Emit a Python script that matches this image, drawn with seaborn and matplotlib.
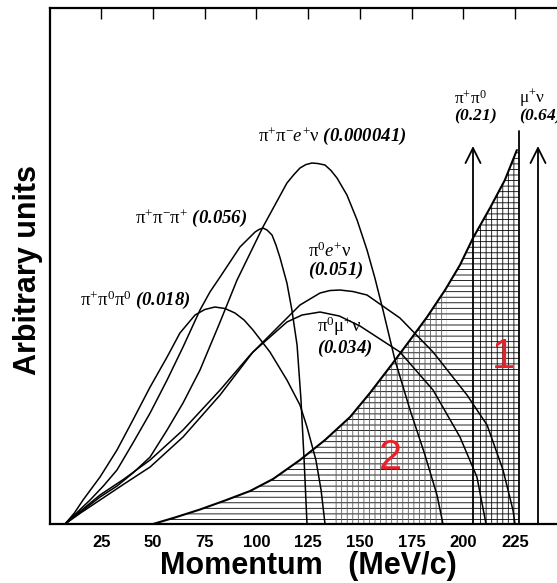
import numpy as np
import pandas as pd
import matplotlib
matplotlib.use("Agg")
import matplotlib.pyplot as plt
import seaborn as sns

# ---------------- data (momentum in MeV/c, arbitrary units) ----------------
p_3pi00 = [7.5, 12.0, 16.2, 24.4, 32.6, 40.3, 48.6, 56.8, 63.0, 70.3, 75.0, 79.9, 84.8, 89.6, 94.0, 98.3, 106.5, 114.7, 121.0, 124.4, 128.7, 131.2, 133.1]
h_3pi00 = [0, 2.2, 4.8, 9.4, 14.8, 20.8, 27.4, 33.4, 38.2, 41.8, 42.9, 43.4, 43.1, 42.2, 40.8, 38.8, 34.4, 28.8, 23.8, 19.4, 12.8, 6.8, 0]

p_3pi = [7.5, 13.0, 19.6, 26.0, 32.6, 40.3, 48.6, 56.8, 64.5, 72.7, 77.5, 82.4, 92.0, 99.3, 101.2, 103.1, 105.1, 107.5, 109.4, 111.4, 114.7, 117.1, 119.6, 121.5, 123.0, 124.4]
h_3pi = [0, 2.2, 4.8, 7.6, 10.8, 16.2, 22.2, 28.8, 35.4, 42.8, 46.4, 49.4, 55.4, 58.4, 58.9, 59.2, 58.8, 57.8, 55.8, 53.2, 48.2, 42.8, 35.8, 24.8, 12.8, 0]

p_ke4 = [7.5, 15.0, 24.4, 32.6, 40.3, 48.6, 56.8, 64.5, 72.7, 82.4, 90.6, 103.1, 114.7, 118.1, 121.0, 123.9, 126.8, 129.7, 133.1, 136.0, 138.9, 143.7, 148.6, 153.4, 157.2, 161.1, 166.9, 174.2, 181.4, 187.2, 190.1]
h_ke4 = [0, 2.4, 5.4, 7.6, 10.2, 13.4, 18.8, 24.2, 30.8, 40.4, 48.8, 59.4, 68.2, 69.9, 71.2, 71.9, 72.2, 72.1, 71.8, 70.7, 69.2, 65.8, 60.8, 54.8, 49.2, 42.8, 32.8, 22.8, 13.8, 5.8, 0]

p_ke3 = [7.5, 15.0, 24.4, 36.0, 48.6, 64.5, 82.4, 96.9, 109.9, 121.0, 130.7, 135.5, 140.3, 146.6, 153.4, 169.3, 185.3, 201.7, 211.4, 219.1, 223.9, 224.9]
h_ke3 = [0, 2.6, 5.8, 9.0, 12.8, 18.8, 26.8, 33.8, 39.2, 43.8, 46.2, 46.7, 46.8, 46.5, 45.8, 41.2, 34.4, 25.8, 19.8, 10.8, 2.8, 0]

p_km3 = [7.5, 15.0, 24.4, 36.0, 48.6, 64.5, 82.4, 98.3, 114.7, 122.0, 130.7, 140.0, 150.0, 169.3, 185.3, 198.3, 206.5, 210.9]
h_km3 = [0, 2.2, 4.8, 8.0, 11.4, 17.4, 25.8, 34.4, 40.4, 41.8, 42.4, 41.6, 39.6, 34.4, 26.8, 17.4, 9.4, 0]

p_bound = [50.0, 60.6, 72.7, 84.8, 96.9, 108.0, 121.0, 133.1, 145.2, 154.8, 165.9, 174.2, 182.4, 191.1, 198.3, 204.6, 212.8, 220.0, 225.8, 226.8, 226.8]
h_bound = [0, 1.3, 2.9, 4.7, 6.6, 9.0, 12.8, 16.8, 21.4, 26.2, 32.2, 36.8, 41.4, 46.8, 51.8, 57.2, 63.2, 68.8, 74.8, 74.8, 0]

edge_p = 226.8
edge_top = 78.6
region2 = (138, 192)
region1 = (207, 226.8)

two_body_p = [204.6, 236.0]
two_body_tip = 75.6
two_body_names = [r"$\mathrm{\pi^{+}\pi^{0}}$", r"$\mathrm{\mu^{+}\nu}$"]
two_body_br = [r"$\mathbfit{(0.21)}$", r"$\mathbfit{(0.64)}$"]

xticks = [25, 50, 75, 100, 125, 150, 175, 200, 225]

# ---------------- style ----------------
sns.set_theme(style="white")
plt.rcParams["font.family"] = ["Liberation Sans", "DejaVu Sans"]
plt.rcParams["mathtext.fontset"] = "custom"
plt.rcParams["mathtext.rm"] = "Liberation Serif"
plt.rcParams["mathtext.it"] = "Liberation Serif:italic"
plt.rcParams["mathtext.bf"] = "Liberation Serif:bold"
plt.rcParams["mathtext.bfit"] = "Liberation Serif:italic:bold"
plt.rcParams["hatch.linewidth"] = 0.6

fig = plt.figure(figsize=(5.57, 5.83), dpi=100)
ax = fig.add_axes([0.0889, 0.1012, 0.929, 0.885])

curves = [(p_3pi00, h_3pi00), (p_3pi, h_3pi), (p_ke4, h_ke4), (p_ke3, h_ke3), (p_km3, h_km3)]
for px, hy in curves:
    sns.lineplot(x=px, y=hy, ax=ax, color="black", lw=1.1, sort=False, estimator=None)

# hatched two-body region
poly = ax.fill(p_bound, h_bound, facecolor="none", edgecolor="black", hatch="---", lw=0)[0]
sns.lineplot(x=p_bound[:-2], y=h_bound[:-2], ax=ax, color="black", lw=1.5, sort=False, estimator=None)
ax.plot([edge_p, edge_p], [0, edge_top], color="black", lw=1.3)

s2 = ax.axvspan(region2[0], region2[1], facecolor="none", edgecolor="0.35", hatch="|||", lw=0)
s2.set_clip_path(poly)
s1 = ax.axvspan(region1[0], region1[1], facecolor="none", edgecolor="black", hatch="|||", lw=0)
s1.set_clip_path(poly)

# two-body arrows
for xp, name, br in zip(two_body_p, two_body_names, two_body_br):
    ax.annotate("", xy=(xp, two_body_tip), xytext=(xp, 0),
                arrowprops=dict(arrowstyle="->,head_length=0.9,head_width=0.45",
                                lw=1.3, color="black", shrinkA=0, shrinkB=0))
    ax.text(xp - 9.2, 85.3, name, fontsize=12.5, ha="left", va="center", color="black")
    ax.text(xp - 9.2, 81.6, br, fontsize=12.5, ha="left", va="center", color="black")

lab = dict(fontsize=13.5, ha="left", va="center", color="black")
ax.text(100.7, 77.6, r"$\mathrm{\pi^{+}\pi^{-}}\mathit{e}^{+}\mathrm{\nu}\ \mathbfit{(0.000041)}$", **lab)
ax.text(41.3, 61.2, r"$\mathrm{\pi^{+}\pi^{-}\pi^{+}}\ \mathbfit{(0.056)}$", **lab)
ax.text(124.9, 54.6, r"$\mathrm{\pi^{0}}\mathit{e}^{+}\mathrm{\nu}$", **lab)
ax.text(124.9, 50.7, r"$\mathbfit{(0.051)}$", **lab)
ax.text(14.7, 44.8, r"$\mathrm{\pi^{+}\pi^{0}\pi^{0}}\ \mathbfit{(0.018)}$", **lab)
ax.text(129.2, 39.6, r"$\mathrm{\pi^{0}\mu^{+}\nu}$", **lab)
ax.text(129.2, 35.2, r"$\mathbfit{(0.034)}$", **lab)

ax.text(219.1, 33.4, "1", fontsize=30, color="#e8202a", ha="center", va="center")
ax.text(164.5, 13.2, "2", fontsize=30, color="#e8202a", ha="center", va="center")

ax.set_xlim(0, 250)
ax.set_ylim(0, 103.2)
ax.set_xticks(xticks)
ax.set_xticklabels([str(t) for t in xticks], fontweight="bold", fontsize=12)
ax.set_yticks([])
ax.tick_params(axis="x", direction="in", length=8, width=1.0, top=True, labeltop=False,
               pad=8, color="black", labelcolor="black")
for side in ["left", "top", "bottom", "right"]:
    ax.spines[side].set_color("black")
    ax.spines[side].set_linewidth(1.6)
ax.set_xlabel("")
ax.set_ylabel("")

fig.text(308 / 557, 0.0154, "Momentum   (MeV/c)", fontsize=22, fontweight="bold",
         ha="center", va="baseline", color="black")
fig.text(28 / 557, 0.537, "Arbitrary units", fontsize=22, fontweight="bold",
         rotation=90, ha="center", va="center", color="black")

fig.savefig("out.png", dpi=100)
